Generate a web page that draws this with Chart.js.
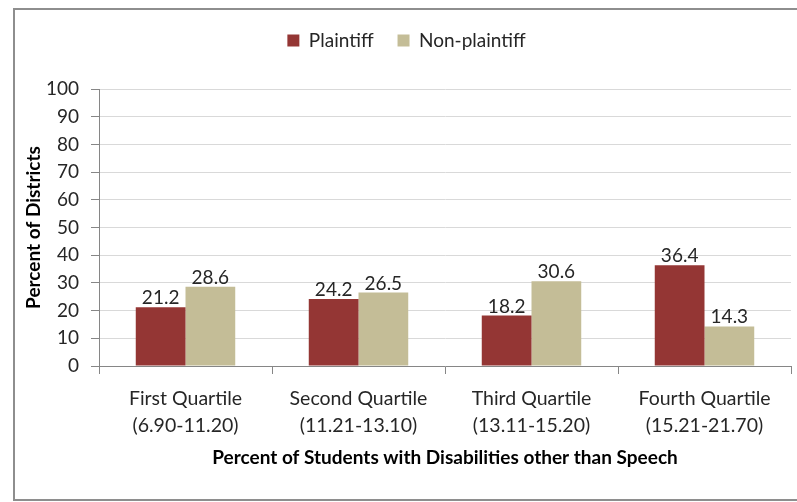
<!DOCTYPE html>
<html>
<head>
<meta charset="utf-8">
<script src="https://cdn.jsdelivr.net/npm/chart.js@4.4.1/dist/chart.umd.min.js"></script>
<style>
  html, body { margin: 0; padding: 0; background: #fff; overflow: hidden; }
  #wrap { position: relative; width: 797px; height: 502px; }
  #frame { position: absolute; left: 13px; top: 8px; width: 800px; height: 489px; border: 2px solid #8e8e8e; box-sizing: content-box; pointer-events: none; }
  canvas { position: absolute; left: 0; top: 0; }
</style>
</head>
<body>
<div id="wrap">
  <canvas id="c" width="797" height="502"></canvas>
  <div id="frame"></div>
</div>
<script>
const categories = [
  ["First Quartile", "(6.90-11.20)"],
  ["Second Quartile", "(11.21-13.10)"],
  ["Third Quartile", "(13.11-15.20)"],
  ["Fourth Quartile", "(15.21-21.70)"]
];
const seriesNames = ["Plaintiff", "Non-plaintiff"];
const plaintiffValues = [21.2, 24.2, 18.2, 36.4];
const nonPlaintiffValues = [28.6, 26.5, 30.6, 14.3];
const yTicks = [0, 10, 20, 30, 40, 50, 60, 70, 80, 90, 100];
const xTitle = "Percent of Students with Disabilities other than Speech";
const yTitle = "Percent of Districts";

const FONT = "Lato, 'Open Sans', sans-serif";
const TEXT = "#262626";

const valueLabels = {
  id: "valueLabels",
  afterDatasetsDraw(chart) {
    const ctx = chart.ctx;
    ctx.save();
    ctx.font = "19px " + FONT;
    ctx.fillStyle = TEXT;
    ctx.textAlign = "center";
    ctx.textBaseline = "alphabetic";
    chart.data.datasets.forEach((ds, i) => {
      const meta = chart.getDatasetMeta(i);
      meta.data.forEach((el, j) => {
        ctx.fillText(ds.data[j].toFixed(1), el.x, el.y - 3);
      });
    });
    ctx.restore();
  }
};

new Chart(document.getElementById("c"), {
  type: "bar",
  data: {
    labels: categories,
    datasets: [
      { label: seriesNames[0], data: plaintiffValues, backgroundColor: "#943634", borderWidth: 0 },
      { label: seriesNames[1], data: nonPlaintiffValues, backgroundColor: "#C4BD97", borderWidth: 0 }
    ]
  },
  options: {
    responsive: false,
    animation: false,
    devicePixelRatio: 1,
    layout: { padding: { left: 22, right: 6, top: 7, bottom: 30 } },
    datasets: { bar: { categoryPercentage: 0.575, barPercentage: 1.0 } },
    plugins: {
      legend: {
        position: "top",
        labels: {
          boxWidth: 12, boxHeight: 12, padding: 24,
          color: TEXT,
          font: { family: FONT, size: 19 }
        }
      },
      subtitle: {
        display: true, text: " ", position: "top", weight: 500,
        font: { size: 10 }, padding: { top: 17, bottom: 0 }
      },
      tooltip: { enabled: false }
    },
    scales: {
      x: {
        offset: true,
        afterFit(scale) { scale.height = 106; },
        grid: { offset: true, drawOnChartArea: false, drawTicks: true, tickLength: 8, tickColor: "#868686" },
        border: { color: "#868686", width: 1 },
        ticks: { color: TEXT, padding: 12, font: { family: FONT, size: 19.5, lineHeight: 1.35 }, maxRotation: 0, autoSkip: false },
        title: { display: true, text: xTitle, color: "#000", font: { family: FONT, size: 19, weight: "bold" }, padding: { top: 0, bottom: 3 } }
      },
      y: {
        min: 0, max: 100,
        afterFit(scale) { scale.width = 77; },
        afterBuildTicks(scale) { scale.ticks = yTicks.map(v => ({ value: v })); },
        grid: { color: "#d9d9d9", tickColor: "#868686", tickLength: 8, lineWidth: 1 },
        border: { color: "#868686", width: 1 },
        ticks: { color: TEXT, padding: 12, font: { family: FONT, size: 19 } },
        title: { display: true, text: yTitle, color: "#000", font: { family: FONT, size: 19, weight: "bold" }, padding: { top: 0, bottom: 0 } }
      }
    }
  },
  plugins: [valueLabels]
});
</script>
</body>
</html>
